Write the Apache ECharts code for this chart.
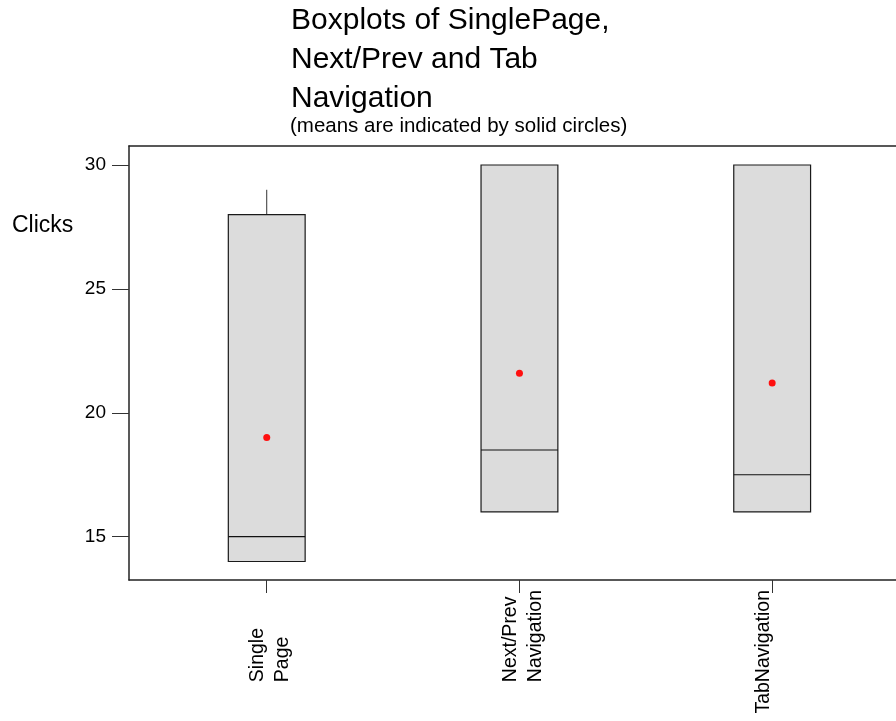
<!DOCTYPE html>
<html>
<head>
<meta charset="utf-8">
<script src="https://cdn.jsdelivr.net/npm/echarts@6/dist/echarts.min.js"></script>
<style>
  html, body { margin: 0; padding: 0; background: #fff; }
  #chart { width: 896px; height: 721px; }
</style>
</head>
<body>
<div id="chart"></div>
<script>
// Click counts per navigation style
const categories = ['Single\nPage', 'Next/Prev\nNavigation', 'TabNavigation'];
const whiskerLow = [14, 16, 16];
const q1 = [14, 16, 16];
const median = [15, 18.5, 17.5];
const q3 = [28, 30, 30];
const whiskerHigh = [29, 30, 30];
const means = [19.0, 21.6, 21.2];
const yTicks = [15, 20, 25, 30];

const FONT = "'Liberation Sans', Arial, sans-serif";
const positions = categories.map((c, i) => i + 1);

const boxData = categories.map((c, i) =>
  [i + 1, whiskerLow[i], q1[i], median[i], q3[i], whiskerHigh[i]]);
const meanData = categories.map((c, i) => [i + 1, means[i]]);

// Rotated category labels: lines start-aligned, first category set a bit away from the axis
function categoryLabel(v) {
  const i = Math.round(v) - 1;
  const lines = categories[i].split('\n');
  const parts = lines.map((l, k) => '{' + (i === 0 && k === 0 ? 'lead' : 'ln') + '|' + l + '}');
  if (lines.length === 1) parts.push('{ln| }');
  return parts.join('\n');
}

function renderBox(params, api) {
  const x = api.value(0);
  const lo = api.coord([x, api.value(1)]);
  const b1 = api.coord([x, api.value(2)]);
  const md = api.coord([x, api.value(3)]);
  const b3 = api.coord([x, api.value(4)]);
  const hi = api.coord([x, api.value(5)]);
  const half = api.size([1, 0])[0] * 0.152;
  return {
    type: 'group',
    children: [
      {
        type: 'line',
        shape: { x1: hi[0], y1: hi[1], x2: b3[0], y2: b3[1] },
        style: { stroke: '#333', lineWidth: 1 }
      },
      {
        type: 'line',
        shape: { x1: b1[0], y1: b1[1], x2: lo[0], y2: lo[1] },
        style: { stroke: '#333', lineWidth: 1 }
      },
      {
        type: 'rect',
        shape: { x: b3[0] - half, y: b3[1], width: half * 2, height: b1[1] - b3[1] },
        style: { fill: '#dcdcdc', stroke: '#1a1a1a', lineWidth: 1.2 }
      },
      {
        type: 'line',
        shape: { x1: md[0] - half, y1: md[1], x2: md[0] + half, y2: md[1] },
        style: { stroke: '#111', lineWidth: 1.2 }
      }
    ]
  };
}

const frameLine = { show: true, lineStyle: { color: '#222', width: 1.5 } };

const chart = echarts.init(document.getElementById('chart'), null, { renderer: 'canvas' });
chart.setOption({
  animation: false,
  backgroundColor: '#fff',
  textStyle: { fontFamily: FONT },
  title: [
    {
      text: 'Boxplots of SinglePage,\nNext/Prev and Tab\nNavigation',
      left: 291, top: 1, padding: 0,
      textStyle: { fontFamily: FONT, fontSize: 30, fontWeight: 'normal', color: '#000', lineHeight: 39 }
    },
    {
      text: '(means are indicated by solid circles)',
      left: 290, top: 115, padding: 0,
      textStyle: { fontFamily: FONT, fontSize: 20.5, fontWeight: 'normal', color: '#000', lineHeight: 22 }
    },
    {
      text: 'Clicks',
      left: 12, top: 213, padding: 0,
      textStyle: { fontFamily: FONT, fontSize: 23, fontWeight: 'normal', color: '#000', lineHeight: 26 }
    }
  ],
  grid: { left: 129, top: 146, right: 0, bottom: 141, show: false },
  xAxis: [
    {
      type: 'value',
      position: 'bottom',
      min: 0.455, max: 3.49,
      splitLine: { show: false },
      axisLine: frameLine,
      axisTick: { show: true, customValues: positions, length: 13, lineStyle: { color: '#333', width: 1 } },
      axisLabel: {
        show: true,
        customValues: positions,
        rotate: 90,
        margin: 10,
        padding: [7, 0, 0, 0],
        color: '#000',
        formatter: categoryLabel,
        rich: {
          ln: { fontFamily: FONT, fontSize: 19.5, lineHeight: 25, align: 'left', color: '#000' },
          lead: { fontFamily: FONT, fontSize: 19.5, lineHeight: 25, align: 'left', color: '#000', padding: [0, 38, 0, 0] }
        }
      }
    },
    {
      // upper frame edge
      type: 'value',
      position: 'top',
      min: 0.455, max: 3.49,
      splitLine: { show: false },
      axisLine: frameLine,
      axisTick: { show: false },
      axisLabel: { show: false }
    }
  ],
  yAxis: {
    type: 'value',
    min: 13.253, max: 30.767,
    splitLine: { show: false },
    axisLine: frameLine,
    axisTick: { show: true, customValues: yTicks, length: 17, lineStyle: { color: '#333', width: 1 } },
    axisLabel: {
      show: true, customValues: yTicks, margin: 23,
      fontFamily: FONT, fontSize: 19, color: '#000'
    }
  },
  series: [
    {
      type: 'custom',
      renderItem: renderBox,
      encode: { x: 0, y: [1, 2, 3, 4, 5] },
      data: boxData,
      z: 2
    },
    {
      type: 'scatter',
      data: meanData,
      symbol: 'circle',
      symbolSize: 7,
      itemStyle: { color: '#ff1010', opacity: 1 },
      z: 3
    }
  ]
});
</script>
</body>
</html>
